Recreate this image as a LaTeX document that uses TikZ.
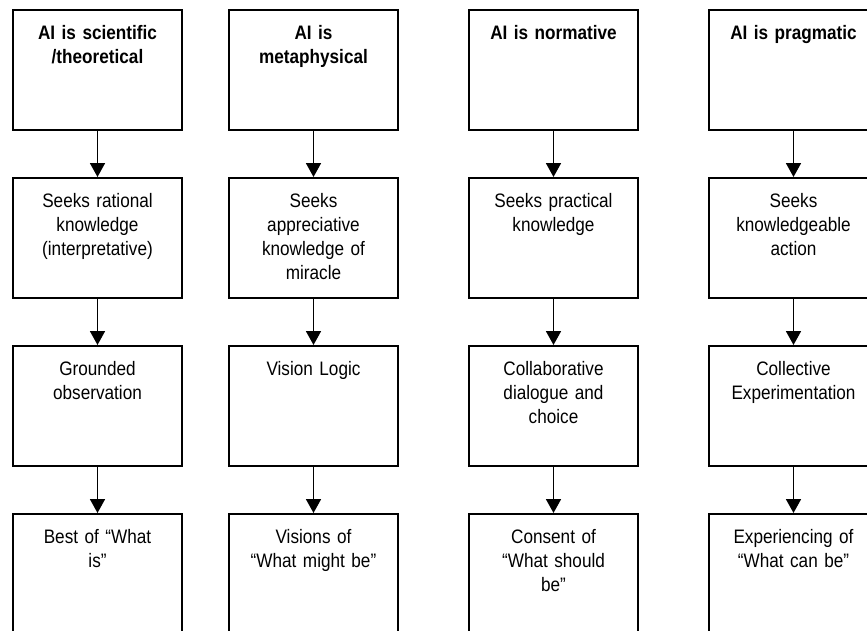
\documentclass[tikz,border=0pt]{standalone}
\usepackage{fontspec}
\setmainfont{Liberation Sans}[FakeStretch=0.88]
\usetikzlibrary{arrows.meta}
\begin{document}
\begin{tikzpicture}[x=1pt,y=-1pt,
  font=\fontsize{19.5}{24}\selectfont,
  stagebox/.style={draw, line width=1.8pt, anchor=north,
    minimum width=169pt, text width=152pt, align=center,
    inner xsep=8.5pt, inner ysep=0pt, text height=30pt, text depth=90pt},
  lastbox/.style={stagebox, text depth=110pt},
  headtext/.style={font=\fontsize{19.5}{24}\selectfont\bfseries},
  flow/.style={draw, line width=1.8pt, -{Triangle[width=15pt,length=14pt]}}]
\useasboundingbox (0,0) rectangle (867,630);
\clip (0,0) rectangle (867,630);

% column 1
\node[stagebox, headtext] (a1) at (97.5,9) {AI is scientific\\/theoretical};
\node[stagebox] (a2) at (97.5,177) {Seeks rational\\knowledge\\(interpretative)};
\node[stagebox] (a3) at (97.5,345) {Grounded\\observation};
\node[lastbox] (a4) at (97.5,513) {Best of “What\\is”};

% column 2
\node[stagebox, headtext] (b1) at (313.5,9) {AI is\\metaphysical};
\node[stagebox] (b2) at (313.5,177) {Seeks\\appreciative\\knowledge of\\miracle};
\node[stagebox] (b3) at (313.5,345) {Vision Logic};
\node[lastbox] (b4) at (313.5,513) {Visions of\\“What might be”};

% column 3
\node[stagebox, headtext] (c1) at (553.5,9) {AI is normative};
\node[stagebox] (c2) at (553.5,177) {Seeks practical\\knowledge};
\node[stagebox] (c3) at (553.5,345) {Collaborative\\dialogue and\\choice};
\node[lastbox] (c4) at (553.5,513) {Consent of\\“What should\\be”};

% column 4
\node[stagebox, headtext] (d1) at (793.5,9) {AI is pragmatic};
\node[stagebox] (d2) at (793.5,177) {Seeks\\knowledgeable\\action};
\node[stagebox] (d3) at (793.5,345) {Collective\\Experimentation};
\node[lastbox] (d4) at (793.5,513) {Experiencing of\\“What can be”};

% downward links within each column
\foreach \c in {a,b,c,d}{
  \draw[flow] (\c1.south) -- (\c2.north);
  \draw[flow] (\c2.south) -- (\c3.north);
  \draw[flow] (\c3.south) -- (\c4.north);
}
\end{tikzpicture}
\end{document}
